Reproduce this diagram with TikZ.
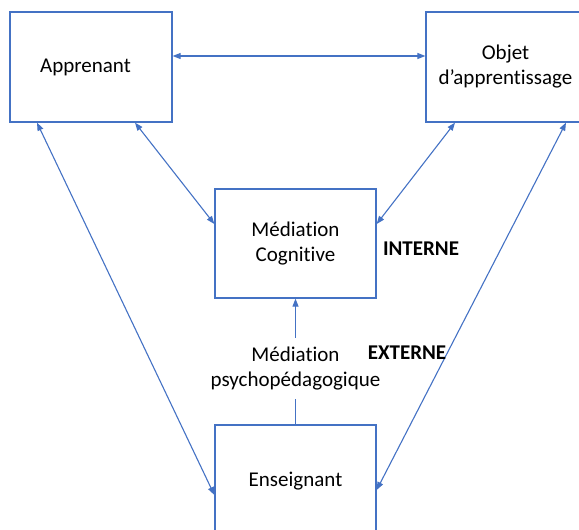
\documentclass[tikz,border=0pt]{standalone}
\usepackage{fontspec}
\setmainfont[Ligatures=NoCommon]{Carlito}
\usetikzlibrary{arrows.meta}
\definecolor{linkblue}{HTML}{4472C4}
\tikzset{
  box/.style={draw=linkblue, line width=1.3pt, rectangle, align=center, inner sep=0pt},
  link/.style={draw=linkblue, line width=1.1pt, {Triangle[length=8pt,width=6pt]}-{Triangle[length=8pt,width=6pt]}},
  uplink/.style={draw=linkblue, line width=1.1pt, -{Triangle[length=8pt,width=6pt]}},
  side/.style={font=\fontsize{21}{25}\selectfont\bfseries}
}
\begin{document}
\begin{tikzpicture}[x=1pt,y=-1pt,font=\fontsize{21}{25}\selectfont]
      \useasboundingbox (0,0) rectangle (579,530);
      \clip (0,0) rectangle (579,530);
      \node[box, minimum width=162pt, minimum height=110pt] (appr) at (91,67) {Apprenant\hspace*{11pt}};
      \node[box, minimum width=159pt, minimum height=110pt] (objet) at (505.5,67) {Objet\\d'apprentissage};
      \node[box, minimum width=161pt, minimum height=109pt] (medcog) at (295.5,243.5) {Médiation\\Cognitive};
      \node[box, minimum width=161pt, minimum height=112pt] (ens) at (295.5,481) {Enseignant};
      \begin{scope}
        \draw[link] ([yshift=11pt]appr.east) to ([yshift=11pt]objet.west);
        \draw[link] ([xshift=-54pt]appr.south) to ([yshift=-14pt]ens.west);
        \draw[link] ([xshift=44pt]appr.south) to ([yshift=19.5pt]medcog.west);
        \draw[link] ([xshift=-50.5pt]objet.south) to ([yshift=19.5pt]medcog.east);
        \draw[link] ([xshift=60.5pt]objet.south) to ([yshift=-9pt]ens.east);
        \draw[uplink] (ens.north) to
          node[pos=0.445, fill=white, align=center, inner xsep=2pt, inner ysep=9pt] (psy) {Médiation\\psychopédagogique}
          (medcog.south);
      \end{scope}
      \node[side] (interne) at (421,249) {INTERNE};
      \node[side] (externe) at (407,353) {EXTERNE};
    \end{tikzpicture}
\end{document}
